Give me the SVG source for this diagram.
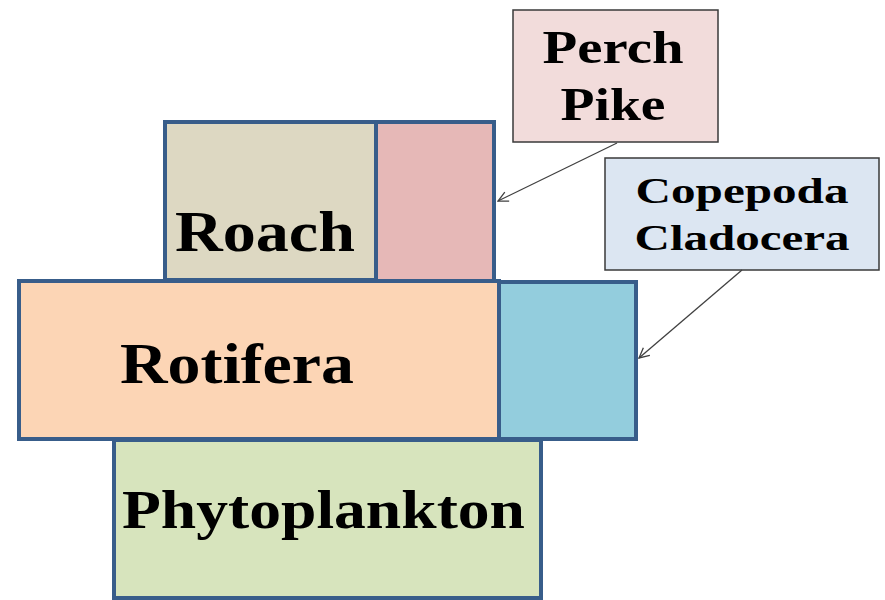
<svg xmlns="http://www.w3.org/2000/svg" width="885" height="600" viewBox="0 0 885 600">
<defs>
<style>
.blk{stroke:#385d8a;stroke-width:4}
.lbl{stroke:#3a3a3a;stroke-width:1.5}
.t{font-family:"Liberation Serif","Times New Roman",serif;font-weight:bold;fill:#000}
.c{stroke:#404040;stroke-width:1.3;fill:none}
</style>
<marker id="ah" markerWidth="12" markerHeight="12" refX="11" refY="6" orient="auto" markerUnits="userSpaceOnUse">
<path d="M1,1 L11,6 L1,11" fill="none" stroke="#404040" stroke-width="1.3"/>
</marker>
</defs>
<rect width="885" height="600" fill="#fff"/>
<g id="roach"><rect class="blk" x="165" y="122" width="211" height="158" fill="#ddd8c2"/>
<text class="t" x="175" y="251" font-size="56" textLength="180" lengthAdjust="spacingAndGlyphs">Roach</text></g>
<g id="perch-pike-block"><rect class="blk" x="376" y="122" width="118" height="160" fill="#e6b8b7"/></g>
<g id="rotifera"><rect class="blk" x="19" y="281" width="480" height="158" fill="#fcd5b5"/>
<text class="t" x="120" y="383" font-size="56" textLength="234" lengthAdjust="spacingAndGlyphs">Rotifera</text></g>
<g id="copepoda-block"><rect class="blk" x="499" y="282" width="137" height="157" fill="#93cddd"/></g>
<g id="phytoplankton"><rect class="blk" x="114" y="440" width="427" height="158" fill="#d7e4bd"/>
<text class="t" x="122" y="528" font-size="54" textLength="403" lengthAdjust="spacingAndGlyphs">Phytoplankton</text></g>
<g id="perch-pike"><rect class="lbl" x="513" y="10" width="205" height="132" fill="#f2dcdb"/>
<text class="t" x="613" y="63" font-size="46" text-anchor="middle" textLength="141" lengthAdjust="spacingAndGlyphs">Perch</text>
<text class="t" x="613" y="120" font-size="46" text-anchor="middle" textLength="105" lengthAdjust="spacingAndGlyphs">Pike</text></g>
<g id="copepoda-cladocera"><rect class="lbl" x="605" y="158" width="274" height="112" fill="#dce6f2"/>
<text class="t" x="742" y="203" font-size="35" text-anchor="middle" textLength="213" lengthAdjust="spacingAndGlyphs">Copepoda</text>
<text class="t" x="742" y="250" font-size="35" text-anchor="middle" textLength="215" lengthAdjust="spacingAndGlyphs">Cladocera</text></g>
<g id="connectors">
<line class="c" x1="617" y1="143" x2="498" y2="201" marker-end="url(#ah)"/>
<line class="c" x1="742" y1="270" x2="639" y2="358" marker-end="url(#ah)"/>
</g>
</svg>
